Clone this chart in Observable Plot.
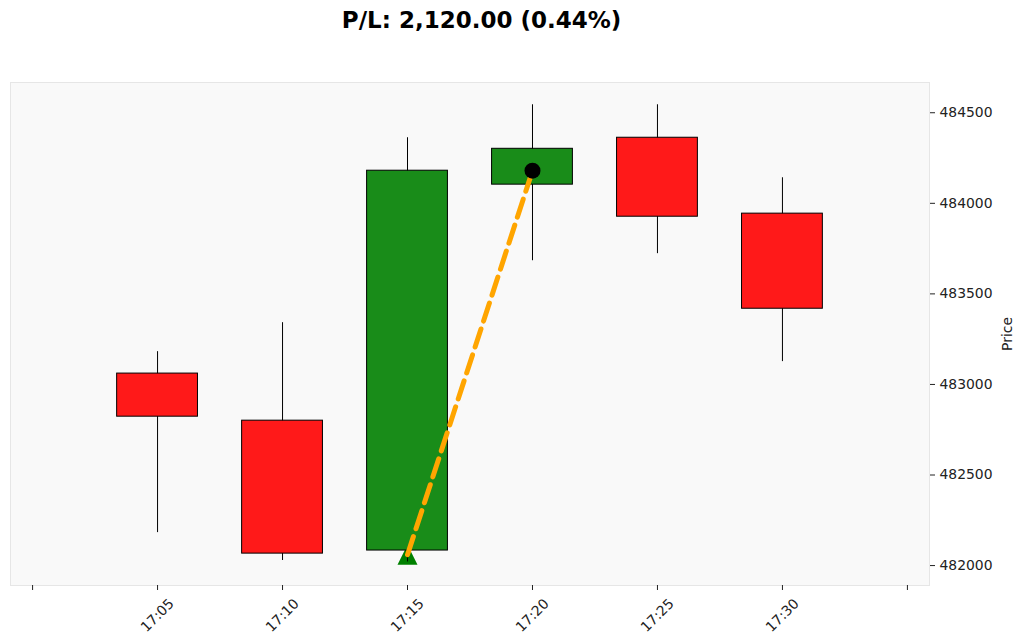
<!DOCTYPE html>
<html><head><meta charset="utf-8">
<script src="https://cdn.jsdelivr.net/npm/d3@7"></script>
<script src="https://cdn.jsdelivr.net/npm/@observablehq/plot@0.6"></script>
<style>
body{margin:0;background:#fff;font-family:"DejaVu Sans",sans-serif;}
#title{height:50px;width:963px;text-align:center;font-weight:bold;font-size:23px;line-height:40px;color:#000;white-space:nowrap;}
#chart svg{display:block;}
</style>
</head><body>
<div id="title">P/L: 2,120.00 (0.44%)</div>
<div id="chart"></div>
<script>
const times  = ["17:05","17:10","17:15","17:20","17:25","17:30"];
const opens  = [483060, 482800, 482083, 484103, 484362, 483943];
const highs  = [483181, 483341, 484362, 484544, 484544, 484141];
const lows   = [482182, 482028, 482020, 483683, 483722, 483126];
const closes = [482822, 482066, 484180, 484301, 483926, 483418];
const tickTimes  = ["17:00","17:05","17:10","17:15","17:20","17:25","17:30","17:35"];
const tickLabels = ["","17:05","17:10","17:15","17:20","17:25","17:30",""];
const yTicks = [482000, 482500, 483000, 483500, 484000, 484500];
const entryTime = "17:15", entryPrice = 482060;
const exitTime = "17:20", exitPrice = 484180;
const yLabel = "Price";

const T = s => new Date(`2024-01-01T${s.length === 5 ? s + ":00" : s}Z`);
const half = 97 * 1000;
const candles = times.map((t, i) => ({
  t: T(t), open: opens[i], high: highs[i], low: lows[i], close: closes[i],
  up: closes[i] >= opens[i]
}));
const trade = [{t: T(entryTime), p: entryPrice}, {t: T(exitTime), p: exitPrice}];
const ticks = tickTimes.map((t, i) => ({t: T(t), label: tickLabels[i]}));

const triangle = {draw(ctx, size) {
  const s = Math.sqrt(size / Math.PI);
  ctx.moveTo(0, -s); ctx.lineTo(-s, s); ctx.lineTo(s, s); ctx.closePath();
}};

const chart = Plot.plot({
  width: 1024, height: 594,
  marginTop: 32, marginBottom: 59, marginLeft: 10, marginRight: 95,
  style: {fontFamily: "DejaVu Sans, sans-serif", fontSize: "13.9px", color: "#222", background: "#fff"},
  x: {type: "utc", domain: [T("16:59:07"), T("17:35:53")], axis: null},
  y: {domain: [481890, 484667], axis: null},
  marks: [
    Plot.frame({fill: "#f9f9f9", stroke: "#e6e6e6"}),
    Plot.dot([trade[0]], {x: "t", y: "p", symbol: triangle, r: 10, fill: "#008000", stroke: "none"}),
    Plot.ruleX(candles, {x: "t", y1: "low", y2: "high", stroke: "#000", strokeWidth: 1}),
    Plot.rect(candles, {
      x1: d => new Date(+d.t - half), x2: d => new Date(+d.t + half),
      y1: "open", y2: "close",
      fill: d => d.up ? "#198c19" : "#ff1919", stroke: "#000", strokeWidth: 1
    }),
    Plot.line(trade, {x: "t", y: "p", stroke: "#ffa500", strokeWidth: 5, strokeDasharray: "19,8.3"}),
    Plot.dot([trade[1]], {x: "t", y: "p", r: 8, fill: "#000", stroke: "none"}),
    Plot.axisX({ticks: ticks.map(d => d.t), tickSize: 5, tickFormat: () => "", label: null, stroke: "#222"}),
    Plot.text(ticks, {x: "t", text: "label", frameAnchor: "bottom", dy: 30, rotate: -45,
      textAnchor: "middle", lineAnchor: "middle", fill: "#222", fontSize: 13.9}),
    Plot.axisY({anchor: "right", ticks: yTicks, tickSize: 5, tickPadding: 5, tickFormat: d => String(d),
      label: null, stroke: "#222", fill: "#222"}),
    Plot.text([yLabel], {text: d => d, frameAnchor: "right", dx: 78, rotate: -90,
      textAnchor: "middle", lineAnchor: "middle", fill: "#222", fontSize: 13.9})
  ]
});
document.getElementById("chart").appendChild(chart);
</script>
</body></html>
